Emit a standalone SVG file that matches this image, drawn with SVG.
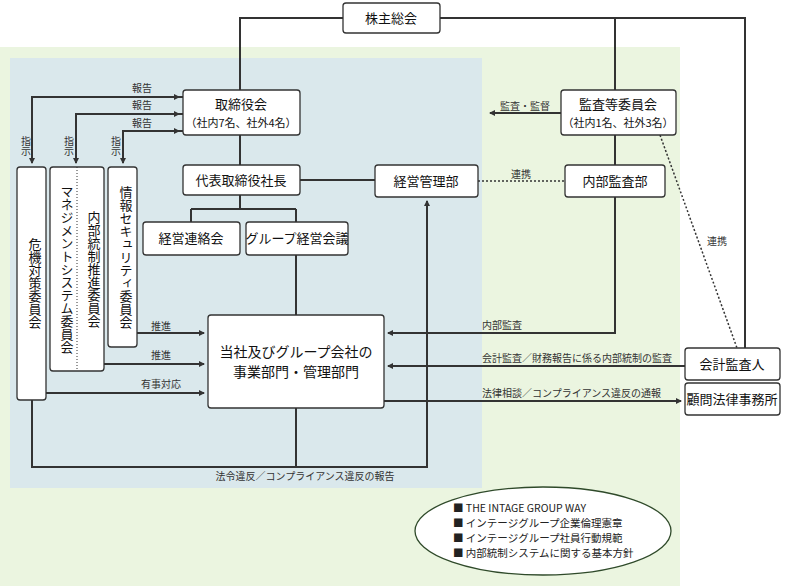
<svg xmlns="http://www.w3.org/2000/svg" width="786" height="586" viewBox="0 0 786 586">
<style>
.n{fill:#fff;stroke:#333;stroke-width:1.3}
.t{font-family:"Noto Sans CJK JP",sans-serif;font-size:13px;fill:#111;text-anchor:middle}
.s{font-family:"Noto Sans CJK JP",sans-serif;font-size:10px;fill:#333;text-anchor:middle}
.e{font-family:"Noto Sans CJK JP",sans-serif;font-size:10.5px;fill:#222}
.c{fill:none;stroke:#333;stroke-width:2}
.d{fill:none;stroke:#333;stroke-width:1.5;stroke-dasharray:2 2}
.v{writing-mode:vertical-rl;font-family:"Noto Sans CJK JP",sans-serif;font-size:13px;fill:#111;text-anchor:middle}
.vs{writing-mode:vertical-rl;font-family:"Noto Sans CJK JP",sans-serif;font-size:10px;fill:#333;text-anchor:middle}
</style>
<defs><marker id="a" markerWidth="6" markerHeight="6" refX="5" refY="3" orient="auto" markerUnits="userSpaceOnUse"><path d="M0,0L6,3L0,6z" fill="#333"/></marker></defs>
<rect x="0" y="47" width="680" height="539" fill="#ebf5e0"/>
<rect x="10" y="58" width="472" height="430" fill="#dae8ec"/>
<g id="connectors">
<path class="c" d="M343,18H240V90M440,18H745V348M615,18V90"/>
<path class="c" d="M183,97H32V163" marker-end="url(#a)"/><path class="c" d="M32,97H179" marker-end="url(#a)"/>
<path class="c" d="M183,114H76V163" marker-end="url(#a)"/><path class="c" d="M76,114H179" marker-end="url(#a)"/>
<path class="c" d="M183,131H123V163" marker-end="url(#a)"/><path class="c" d="M123,131H179" marker-end="url(#a)"/>
<path class="c" d="M240,135V165M300,180H375M240,195V209M191,209H296M191,209V222M296,209V222M296,255V315"/>
<path class="d" d="M478,181H565"/>
<path class="c" d="M561,113H490" marker-end="url(#a)"/>
<path class="c" d="M615,135V165"/>
<path class="c" d="M615,197V333H388" marker-end="url(#a)"/>
<path class="d" d="M660,135L737,348"/>
<path class="c" d="M685,366H388" marker-end="url(#a)"/>
<path class="c" d="M384,401H681" marker-end="url(#a)"/>
<path class="c" d="M137,333H204" marker-end="url(#a)"/>
<path class="c" d="M104,364H204" marker-end="url(#a)"/>
<path class="c" d="M46,393H204" marker-end="url(#a)"/>
<path class="c" d="M32,400V467H427V201" marker-end="url(#a)"/>
<path class="c" d="M296,408V467"/>
<text class="s" x="142" y="92">報告</text><text class="s" x="142" y="109">報告</text><text class="s" x="142" y="127">報告</text>
<text class="vs" x="26" y="146">指示</text>
<text class="vs" x="69" y="146">指示</text>
<text class="vs" x="116" y="146">指示</text>
<text class="s" x="525" y="110">監査・監督</text>
<text class="s" x="521" y="178">連携</text>
<text class="s" x="717" y="245">連携</text>
<text class="s" x="161" y="330">推進</text><text class="s" x="161" y="359">推進</text>
<text class="s" x="161" y="388">有事対応</text>
<text class="s" x="482" y="329" style="text-anchor:start">内部監査</text>
<text class="s" x="482" y="362" style="text-anchor:start">会計監査／財務報告に係る内部統制の監査</text>
<text class="s" x="482" y="397" style="text-anchor:start">法律相談／コンプライアンス違反の通報</text>
<text class="s" x="305" y="480">法令違反／コンプライアンス違反の報告</text>
</g>
<g id="kabunushi"><rect class="n" x="343" y="3" width="97" height="30" rx="3"/><text class="t" x="391" y="23">株主総会</text></g>
<g id="torishimari"><rect class="n" x="183" y="90" width="117" height="45" rx="3"/><text class="t" x="241" y="109">取締役会</text><text class="t" x="241" y="127" style="font-size:11px">（社内7名、社外4名）</text></g>
<g id="kansa"><rect class="n" x="561" y="90" width="115" height="45" rx="3"/><text class="t" x="618" y="109">監査等委員会</text><text class="t" x="618" y="127" style="font-size:11px">（社内1名、社外3名）</text></g>
<g id="shacho"><rect class="n" x="183" y="165" width="117" height="30" rx="3"/><text class="t" x="241" y="185">代表取締役社長</text></g>
<g id="keiei"><rect class="n" x="375" y="165" width="103" height="32" rx="3"/><text class="t" x="426" y="186">経営管理部</text></g>
<g id="naibu"><rect class="n" x="565" y="165" width="100" height="32" rx="3"/><text class="t" x="615" y="186">内部監査部</text></g>
<g id="renraku"><rect class="n" x="143" y="222" width="97" height="33" rx="3"/><text class="t" x="191" y="243">経営連絡会</text></g>
<g id="group"><rect class="n" x="246" y="222" width="102" height="33" rx="3"/><text class="t" x="297" y="243">グループ経営会議</text></g>
<g id="jigyo"><rect class="n" x="208" y="315" width="176" height="93" rx="3"/><text class="t" x="296" y="357" style="font-size:14px">当社及びグループ会社の</text><text class="t" x="296" y="377" style="font-size:14px">事業部門・管理部門</text></g>
<g id="kaikei"><rect class="n" x="685" y="348" width="95" height="32" rx="3"/><text class="t" x="732" y="369">会計監査人</text></g>
<g id="houritsu"><rect class="n" x="685" y="383" width="95" height="32" rx="3"/><text class="t" x="732" y="404">顧問法律事務所</text></g>
<g id="kiki"><rect class="n" x="17" y="167" width="29" height="233" rx="3"/><text class="v" x="35" y="283">危機対策委員会</text></g>
<g id="mgmt"><rect class="n" x="50" y="167" width="54" height="204" rx="3"/><line x1="77" y1="167" x2="77" y2="371" stroke="#333" stroke-dasharray="1 2"/><text class="v" x="67" y="269">マネジメントシステム委員会</text><text class="v" x="94" y="269">内部統制推進委員会</text></g>
<g id="joho"><rect class="n" x="108" y="167" width="29" height="180" rx="3"/><text class="v" x="126" y="257">情報セキュリティ委員会</text></g>
<g id="way"><ellipse cx="543" cy="531" rx="128" ry="44" fill="#fff" stroke="#2f4a2a" stroke-width="1.3"/>
<text class="e" x="453" y="512">■ THE INTAGE GROUP WAY</text>
<text class="e" x="453" y="527">■ インテージグループ企業倫理憲章</text>
<text class="e" x="453" y="542">■ インテージグループ社員行動規範</text>
<text class="e" x="453" y="557">■ 内部統制システムに関する基本方針</text></g>
</svg>
